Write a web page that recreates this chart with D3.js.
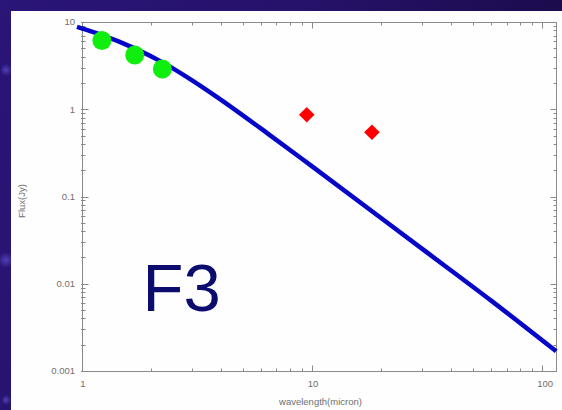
<!DOCTYPE html>
<html>
<head>
<meta charset="utf-8">
<script src="https://cdn.jsdelivr.net/npm/d3@7"></script>
<style>
  html, body { margin: 0; padding: 0; background: #1c0c5c; }
  svg { display: block; }
</style>
</head>
<body>
<svg id="chart" width="562" height="410"></svg>
<script>
// Photometry (wavelength in micron, flux in Jy)
const nirWavelength = [1.22, 1.695, 2.235];
const nirFlux = [6.15, 4.19, 2.89];
const midWavelength = [9.48, 18.2];
const midFlux = [0.866, 0.544];

// Model spectral energy distribution
const modelWavelength = [0.951, 1.197, 1.666, 2.228, 2.861, 3.864, 6.44, 10, 30.1, 60.6, 115];
const modelFlux = [8.77, 7.21, 5.09, 3.47, 2.336, 1.378, 0.523, 0.2213, 0.02508, 0.006277, 0.001683];

const xTickLabels = ["1", "10", "100"];
const yTickLabels = ["0.001", "0.01", "0.1", "1", "10"];

(function () {
const svg = d3.select("#chart");
const W = 562, H = 410;

// Starry backdrop
const defs = svg.append("defs");
const bg = defs.append("linearGradient").attr("id", "space")
  .attr("x1", 0).attr("y1", 0).attr("x2", 1).attr("y2", 0.3);
bg.append("stop").attr("offset", 0).attr("stop-color", "#2a1578");
bg.append("stop").attr("offset", 0.5).attr("stop-color", "#26126a");
bg.append("stop").attr("offset", 1).attr("stop-color", "#1a0a48");
svg.append("rect").attr("width", W).attr("height", H).attr("fill", "url(#space)");
const glow = defs.append("radialGradient").attr("id", "glow");
glow.append("stop").attr("offset", 0).attr("stop-color", "#5a4ac8").attr("stop-opacity", 0.8);
glow.append("stop").attr("offset", 1).attr("stop-color", "#5a4ac8").attr("stop-opacity", 0);
svg.append("circle").attr("cx", 6).attr("cy", 70).attr("r", 6).attr("fill", "url(#glow)");
svg.append("circle").attr("cx", 6).attr("cy", 260).attr("r", 8).attr("fill", "url(#glow)");
svg.append("circle").attr("cx", 6).attr("cy", 400).attr("r", 5).attr("fill", "url(#glow)");

// White panel
svg.append("rect").attr("x", 11).attr("y", 11).attr("width", W - 11).attr("height", H - 11)
  .attr("fill", "#fefefe");

const pLeft = 82, pRight = 557, pTop = 22, pBottom = 371;
const x = d3.scaleLog().domain([1, 116]).range([pLeft, pRight]);
const y = d3.scaleLog().domain([0.001, 10]).range([pBottom, pTop]);

const axisColor = "#8a8a8a";
const labelColor = "#6f6f6f";
const font = "'Liberation Sans', Arial, sans-serif";

// Tick positions
const xMajor = xTickLabels.map(Number);
const xMinor = [];
[1, 10].forEach(d => { for (let k = 2; k <= 9; k++) if (d * k <= 116) xMinor.push(d * k); });
const yMajor = yTickLabels.map(Number);
const yMinor = [];
[0.001, 0.01, 0.1, 1].forEach(d => { for (let k = 2; k <= 9; k++) yMinor.push(d * k); });

const frame = svg.append("g").attr("stroke", axisColor).attr("stroke-width", 1).attr("fill", "none");
frame.append("rect").attr("x", pLeft + 0.5).attr("y", pTop + 0.5)
  .attr("width", pRight - pLeft - 1).attr("height", pBottom - pTop);

// Inward ticks on all four sides
function xTicks(vals, len) {
  vals.forEach(v => {
    const px = Math.round(x(v)) + 0.5;
    frame.append("line").attr("x1", px).attr("x2", px).attr("y1", pBottom + 0.5).attr("y2", pBottom + 0.5 - len);
    frame.append("line").attr("x1", px).attr("x2", px).attr("y1", pTop + 0.5).attr("y2", pTop + 0.5 + len);
  });
}
function yTicks(vals, len) {
  vals.forEach(v => {
    const py = Math.round(y(v)) + 0.5;
    frame.append("line").attr("y1", py).attr("y2", py).attr("x1", pLeft - 1).attr("x2", pLeft + 0.5 + len);
    frame.append("line").attr("y1", py).attr("y2", py).attr("x1", pRight - 0.5).attr("x2", pRight - 0.5 - len);
  });
}
xTicks(xMajor, 6); xTicks(xMinor, 3);
yTicks(yMajor, 6); yTicks(yMinor, 3);

// Tick labels
svg.append("g").selectAll("text").data(yTickLabels).join("text")
  .attr("x", pLeft - 7).attr("y", d => y(+d)).attr("dy", "0.35em")
  .attr("text-anchor", "end").attr("font-family", font).attr("font-size", 9.5)
  .attr("fill", labelColor).text(d => d);
svg.append("g").selectAll("text").data(xTickLabels).join("text")
  .attr("x", d => x(+d) + (d === "100" ? 3 : 1)).attr("y", pBottom + 16)
  .attr("text-anchor", "middle").attr("font-family", font).attr("font-size", 9.5)
  .attr("fill", labelColor).text(d => d);

// Axis titles
svg.append("text").attr("x", (pLeft + pRight) / 2 + 1).attr("y", 405)
  .attr("text-anchor", "middle").attr("font-family", font).attr("font-size", 9.5)
  .attr("fill", labelColor).text("wavelength(micron)");
svg.append("text").attr("transform", "translate(25,201) rotate(-90)")
  .attr("text-anchor", "middle").attr("font-family", font).attr("font-size", 9.5)
  .attr("fill", labelColor).text("Flux(Jy)");

// Panel label
svg.append("text").attr("x", 142.5).attr("y", 311)
  .attr("font-family", font).attr("font-size", 67).attr("fill", "#0c0c6e").text("F3");

// Model curve
const model = modelWavelength.map((w, i) => [w, modelFlux[i]]);
svg.append("path").datum(model)
  .attr("fill", "none").attr("stroke", "#0606c8").attr("stroke-width", 4.5)
  .attr("stroke-linejoin", "round")
  .attr("d", d3.line().x(d => x(d[0])).y(d => y(d[1])).curve(d3.curveMonotoneX));

// Near-infrared photometry
svg.append("g").selectAll("circle").data(nirWavelength).join("circle")
  .attr("cx", d => x(d)).attr("cy", (d, i) => y(nirFlux[i])).attr("r", 9.5)
  .attr("fill", "#10ee10");

// Mid-infrared photometry
svg.append("g").selectAll("path").data(midWavelength).join("path")
  .attr("transform", (d, i) => `translate(${x(d)},${y(midFlux[i])})`)
  .attr("d", d3.symbol().type(d3.symbolDiamond2).size(155))
  .attr("fill", "#ff0000");
})();
</script>
</body>
</html>
